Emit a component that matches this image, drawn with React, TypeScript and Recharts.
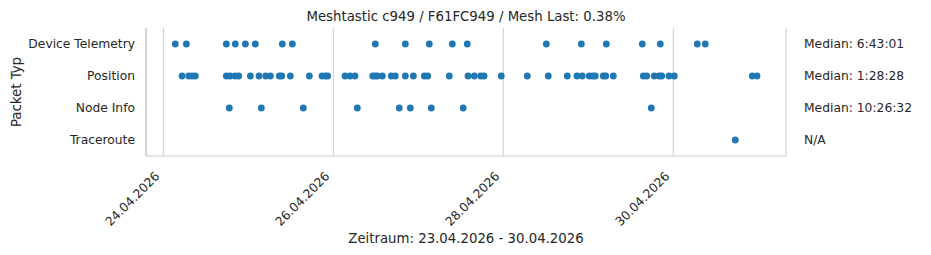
import React from "react";
import {
  ScatterChart,
  Scatter,
  XAxis,
  YAxis,
  CartesianGrid,
  Customized,
} from "recharts";

// Packet types (rows, top to bottom)
const packetTypes = ["Device Telemetry", "Position", "Node Info", "Traceroute"];
// Median interval per packet type
const medians = ["Median: 6:43:01", "Median: 1:28:28", "Median: 10:26:32", "N/A"];
// X tick labels (days after 24.04.2026)
const tickDays = [0, 2, 4, 6];

// Packet times, in days after 24.04.2026 00:00
const deviceTelemetry = [
  0.141, 0.271, 0.741, 0.847, 0.965, 1.082, 1.4, 1.518, 2.494, 2.847, 3.129,
  3.4, 3.576, 4.506, 4.918, 5.212, 5.635, 5.847, 6.282, 6.376,
];
const position = [
  0.22, 0.299, 0.338, 0.376, 0.741, 0.785, 0.844, 0.887, 1.024, 1.126, 1.205,
  1.259, 1.365, 1.393, 1.494, 1.718, 1.867, 1.906, 1.934, 2.138, 2.196, 2.255,
  2.464, 2.491, 2.518, 2.576, 2.682, 2.729, 2.847, 2.941, 3.071, 3.111, 3.365,
  3.585, 3.659, 3.734, 3.773, 3.976, 4.282, 4.529, 4.753, 4.867, 4.929, 5.012,
  5.052, 5.082, 5.176, 5.205, 5.294, 5.647, 5.687, 5.776, 5.835, 5.864, 5.949,
  6.012, 6.929, 6.985,
];
const nodeInfo = [0.776, 1.153, 1.647, 2.282, 2.776, 2.906, 3.153, 3.528, 5.741];
const traceroute = [6.729];

const DAY = 86400000;
const BASE = Date.UTC(2026, 3, 24);
const X_MIN = BASE - 0.204 * DAY;
const X_MAX = BASE + 7.326 * DAY;

const seriesList = [deviceTelemetry, position, nodeInfo, traceroute];
const points = seriesList.flatMap((arr, row) =>
  arr.map((d) => ({ x: BASE + d * DAY, y: row }))
);

const FONT = "DejaVu Sans, sans-serif";
const TEXT = "#262626";
const GRID = "#cccccc";
const TICK_FS = 12.3;

const pad = (n: number) => (n < 10 ? "0" + n : "" + n);
const fmtDate = (v: number) => {
  const d = new Date(v);
  return `${pad(d.getUTCDate())}.${pad(d.getUTCMonth() + 1)}.${d.getUTCFullYear()}`;
};

const DateTick = (props: any) => {
  const { x, y, payload } = props;
  const px = x - 3;
  const py = y + 19;
  return (
    <text
      x={px}
      y={py}
      transform={`rotate(-45, ${px}, ${py})`}
      textAnchor="end"
      fontSize={TICK_FS}
      fontFamily={FONT}
      fill={TEXT}
    >
      {fmtDate(payload.value)}
    </text>
  );
};

const Dot = (props: any) => (
  <circle cx={props.cx} cy={props.cy} r={3.4} fill="#1f77b4" />
);

const Texts = () => (
  <g fontFamily={FONT} fill={TEXT}>
    <text x={466} y={20.5} textAnchor="middle" fontSize={13.3}>
      Meshtastic c949 / F61FC949 / Mesh Last: 0.38%
    </text>
    <text x={466} y={242.5} textAnchor="middle" fontSize={13.3}>
      Zeitraum: 23.04.2026 - 30.04.2026
    </text>
    <text
      x={21}
      y={92}
      textAnchor="middle"
      fontSize={13.3}
      transform="rotate(-90, 21, 92)"
    >
      Packet Typ
    </text>
  </g>
);

export default function App() {
  return (
    <div style={{ position: "absolute", left: 0, top: 0, background: "#fff" }}>
      <ScatterChart
        width={931}
        height={255}
        margin={{ top: 28, right: 0, bottom: 0, left: 0 }}
      >
        <CartesianGrid horizontal={false} stroke={GRID} strokeWidth={1} />
        <XAxis
          type="number"
          dataKey="x"
          domain={[X_MIN, X_MAX]}
          ticks={tickDays.map((d) => BASE + d * DAY)}
          tick={<DateTick />}
          tickLine={false}
          tickSize={0}
          axisLine={{ stroke: GRID, strokeWidth: 1.2 }}
          height={99}
          allowDataOverflow
        />
        <YAxis
          yAxisId="left"
          type="number"
          dataKey="y"
          domain={[-0.5, 3.5]}
          reversed
          ticks={[0, 1, 2, 3]}
          tickFormatter={(i: number) => packetTypes[i] ?? ""}
          width={146}
          tickLine={false}
          tickSize={0}
          tickMargin={11}
          axisLine={{ stroke: GRID, strokeWidth: 1.2 }}
          tick={{ fontSize: TICK_FS, fontFamily: FONT, fill: TEXT }}
          allowDataOverflow
        />
        <YAxis
          yAxisId="right"
          orientation="right"
          type="number"
          dataKey="y"
          domain={[-0.5, 3.5]}
          reversed
          ticks={[0, 1, 2, 3]}
          tickFormatter={(i: number) => medians[i] ?? ""}
          width={145}
          tickLine={false}
          tickSize={0}
          tickMargin={18}
          axisLine={false}
          tick={{ fontSize: TICK_FS, fontFamily: FONT, fill: TEXT, textAnchor: "start" }}
          allowDataOverflow
        />
        <Scatter
          yAxisId="left"
          data={points}
          shape={<Dot />}
          isAnimationActive={false}
        />
        <Customized component={<Texts />} />
      </ScatterChart>
    </div>
  );
}
